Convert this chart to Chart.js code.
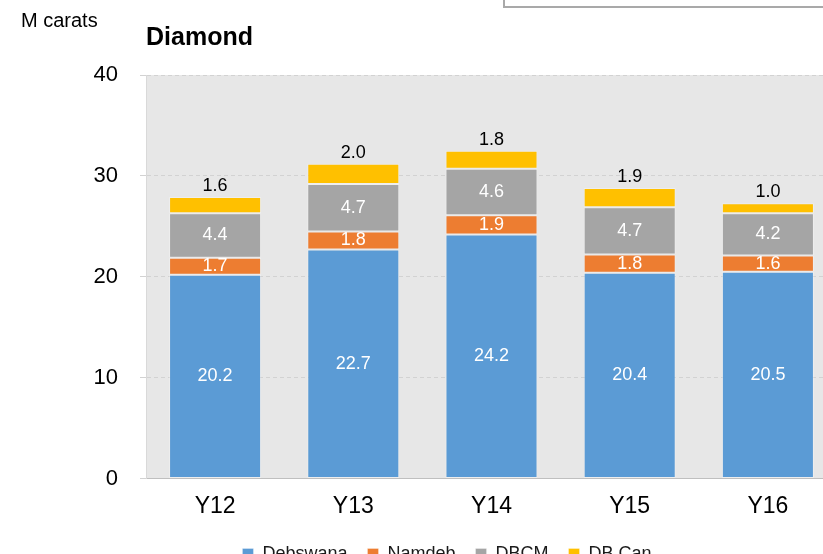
<!DOCTYPE html>
<html>
<head>
<meta charset="utf-8">
<script src="https://cdn.jsdelivr.net/npm/chart.js@4.4.1/dist/chart.umd.min.js"></script>
<style>
  html, body { margin: 0; padding: 0; background: #fff; overflow: hidden; width: 823px; height: 554px; }
  #wrap { position: absolute; left: 0; top: 0; width: 894px; height: 573px; }
  #note { position: absolute; left: 503px; top: -32px; width: 360px; height: 36px; border: 2px solid #a9a9a9; background: #fff; }
</style>
</head>
<body>
<div id="wrap"><canvas id="c" width="894" height="573"></canvas></div>
<div id="note"></div>
<script>
// 数据
const years = ['Y12', 'Y13', 'Y14', 'Y15', 'Y16'];
const debswana = [20.2, 22.7, 24.2, 20.4, 20.5];
const namdeb = [1.7, 1.8, 1.9, 1.8, 1.6];
const dbcm = [4.4, 4.7, 4.6, 4.7, 4.2];
const dbCan = [1.6, 2.0, 1.8, 1.9, 1.0];
const yTicks = [0, 10, 20, 30, 40];

Chart.defaults.font.family = '"Liberation Sans", Arial, sans-serif';
Chart.defaults.color = '#000';

// 灰色绘图区背景
const plotBg = {
    id: 'plotBg',
    beforeDraw(chart) {
        const a = chart.chartArea, ctx = chart.ctx;
        ctx.save();
        ctx.fillStyle = '#e7e7e7';
        ctx.fillRect(a.left, a.top, a.right - a.left, a.bottom - a.top);
        ctx.restore();
    }
};

// 数据标签 + 单位
const labels = {
    id: 'labels',
    afterDatasetsDraw(chart) {
        const ctx = chart.ctx;
        ctx.save();
        ctx.font = '18px "Liberation Sans", Arial, sans-serif';
        ctx.textAlign = 'center';
        ctx.textBaseline = 'middle';
        chart.data.datasets.forEach((ds, di) => {
            chart.getDatasetMeta(di).data.forEach((bar, i) => {
                const txt = ds.data[i].toFixed(1);
                if (di < 3) {
                    ctx.fillStyle = '#fff';
                    ctx.fillText(txt, bar.x, (bar.y + bar.base) / 2);
                } else {
                    ctx.fillStyle = '#000';
                    ctx.fillText(txt, bar.x, bar.y - 11);
                }
            });
        });
        ctx.textAlign = 'left';
        ctx.font = '20px "Liberation Sans", Arial, sans-serif';
        ctx.fillText('M carats', 21, 21);
        ctx.restore();
    }
};

const seg = { borderColor: 'rgba(255,255,255,0.3)', borderWidth: 1, borderSkipped: false, categoryPercentage: 1, barPercentage: 0.666 };

new Chart(document.getElementById('c'), {
    type: 'bar',
    data: {
        labels: years,
        datasets: [
            { label: 'Debswana', data: debswana, backgroundColor: '#5b9bd5', ...seg },
            { label: 'Namdeb', data: namdeb, backgroundColor: '#ed7d31', ...seg },
            { label: 'DBCM', data: dbcm, backgroundColor: '#a5a5a5', ...seg },
            { label: 'DB Can', data: dbCan, backgroundColor: '#ffc000', ...seg }
        ]
    },
    options: {
        responsive: false,
        animation: false,
        layout: { padding: 0 },
        plugins: {
            tooltip: { enabled: false },
            title: {
                display: true, text: 'Diamond', align: 'start', fullSize: false,
                font: { size: 25, weight: 'bold' }, color: '#000',
                padding: { top: 23, bottom: 22 }
            },
            legend: {
                position: 'bottom',
                labels: { boxWidth: 11, boxHeight: 11, padding: 20, font: { size: 18 }, color: '#1a1a1a' }
            }
        },
        scales: {
            x: {
                stacked: true,
                grid: { display: false, drawTicks: false },
                border: { display: true, color: '#bfbfbf' },
                ticks: { font: { size: 23 }, padding: 14 },
                afterFit(s) { s.height = 46.4; }
            },
            y: {
                stacked: true, min: 0, max: 40,
                afterBuildTicks(s) { s.ticks = yTicks.map(v => ({ value: v })); },
                grid: { color: '#d2d2d2', tickLength: 6 },
                border: { display: true, color: '#d9d9d9', dash: [4, 3] },
                ticks: { font: { size: 22 }, padding: 22 },
                afterFit(s) { s.width = 146; }
            },
            yR: {
                position: 'right', display: true,
                grid: { display: false, drawTicks: false },
                border: { display: false },
                ticks: { display: false },
                afterFit(s) { s.width = 57; }
            }
        }
    },
    plugins: [plotBg, labels]
});
</script>
</body>
</html>
